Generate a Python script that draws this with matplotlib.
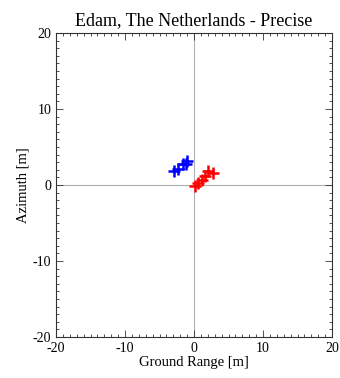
import matplotlib
matplotlib.use("Agg")
import matplotlib.pyplot as plt
from matplotlib.ticker import MultipleLocator

# Estimated positions [m]
blue_x = [-2.9, -2.3, -1.6, -1.0, -1.2]
blue_y = [1.9, 2.1, 2.8, 3.2, 2.7]
red_x = [0.2, 0.6, 1.1, 1.6, 2.0, 2.8]
red_y = [-0.1, 0.3, 0.7, 1.2, 1.8, 1.6]

plt.rcParams["font.family"] = ["Liberation Serif", "DejaVu Serif"]
plt.rcParams["axes.unicode_minus"] = False

fig = plt.figure(figsize=(3.4, 3.78), dpi=100)
ax = fig.add_axes([56 / 340, 1 - 337 / 378, 276 / 340, 304 / 378])

ax.axhline(0, color="#b0b0b0", lw=0.8, zorder=1)
ax.axvline(0, color="#b0b0b0", lw=0.8, zorder=1)
ax.plot(blue_x, blue_y, "+", color="blue", ms=9, mew=1.8, zorder=3)
ax.plot(red_x, red_y, "+", color="red", ms=9, mew=1.8, zorder=3)

ax.set_xlim(-20, 20)
ax.set_ylim(-20, 20)
for axis in (ax.xaxis, ax.yaxis):
    axis.set_major_locator(MultipleLocator(10))
    axis.set_minor_locator(MultipleLocator(1))
ax.tick_params(which="both", direction="in", top=True, right=True,
               labelsize=10, width=0.6, color="#333333")
ax.tick_params(which="major", length=5)
ax.tick_params(which="minor", length=2.5)
for s in ax.spines.values():
    s.set_linewidth(0.8)
    s.set_color("#333333")

ax.set_title("Edam, The Netherlands - Precise", fontsize=13, pad=6)
ax.set_xlabel("Ground Range [m]", fontsize=10.5, labelpad=1)
ax.set_ylabel("Azimuth [m]", fontsize=10.5, labelpad=2)

fig.savefig("out.png", dpi=100)
